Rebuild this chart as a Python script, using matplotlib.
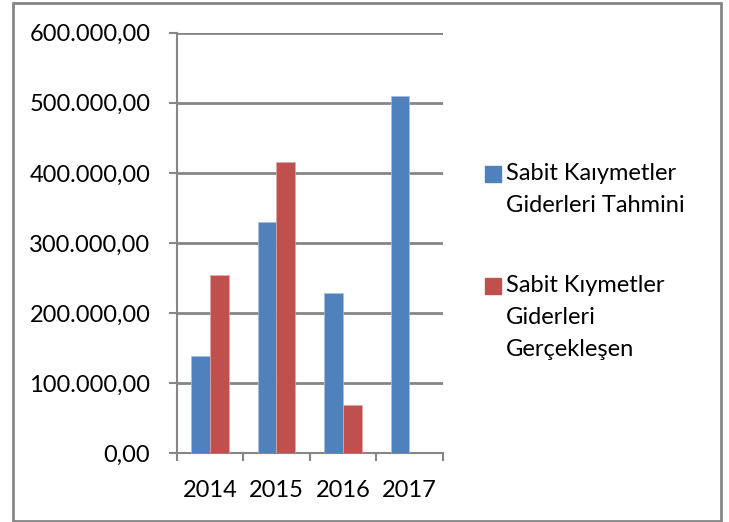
import matplotlib.pyplot as plt
import numpy as np
from matplotlib.patches import Rectangle

years = ["2014", "2015", "2016", "2017"]
tahmini = [139000, 330000, 229000, 510000]
gerceklesen = [255000, 416000, 69000, 0]
series_names = ["Sabit Kaıymetler\nGiderleri Tahmini",
                "Sabit Kıymetler\nGiderleri\nGerçekleşen"]
yticks = [0, 100000, 200000, 300000, 400000, 500000, 600000]

blue = "#4F81BD"
red = "#C0504D"
grid_col = "#868686"

plt.rcParams['font.family'] = ['Lato', 'DejaVu Sans']

fig = plt.figure(figsize=(7.29, 5.22), dpi=100)
ax = fig.add_axes([176.7/729, 1-453.3/522, 266/729, 420.6/522])

x = np.arange(len(years))
w = 0.28
ax.bar(x - w/2, tahmini, w, color=blue, edgecolor="#a7c0e0", linewidth=0.5, zorder=3)
ax.bar(x + w/2, gerceklesen, w, color=red, edgecolor="#e0a9a7", linewidth=0.5, zorder=3)

ax.set_xlim(-0.5, len(years) - 0.5)
ax.set_ylim(0, 600000)
ax.set_yticks(yticks)
ax.set_yticklabels(["{:,.2f}".format(v).replace(",", "X").replace(".", ",").replace("X", ".") for v in yticks])
ax.yaxis.grid(True, color=grid_col, linewidth=2, zorder=0)

ax.set_xticks(np.arange(len(years) + 1) - 0.5, minor=False)
ax.set_xticklabels([])
ax.set_xticks(x, minor=True)
ax.set_xticklabels(years, minor=True)
ax.tick_params(axis="x", which="minor", length=0, pad=19, labelsize=17)
ax.tick_params(axis="x", which="major", length=6, width=1.5, color=grid_col)
ax.tick_params(axis="y", length=6, width=1.5, color=grid_col, pad=13, labelsize=17)

for s in ["top", "right"]:
    ax.spines[s].set_visible(False)
for s in ["left", "bottom"]:
    ax.spines[s].set_color(grid_col)
    ax.spines[s].set_linewidth(1.5)

# legend drawn by hand: square next to first line of each label
leg_y = [174, 286]
for name, col, yy in zip(series_names, [blue, red], leg_y):
    fig.patches.append(Rectangle((485/729, 1-(yy+8)/522), 16/729, 16/522,
                                 transform=fig.transFigure, color=col))
    for i, line in enumerate(name.split("\n")):
        fig.text(506/729, 1-(yy + i*32)/522, line, fontsize=17, va="center", ha="left")

# outer border
fig.patches.append(Rectangle((13/729, 1-521/522), 708/729, 518/522, transform=fig.transFigure,
                             fill=False, edgecolor=grid_col, linewidth=2))

fig.savefig("out.png", dpi=100)
